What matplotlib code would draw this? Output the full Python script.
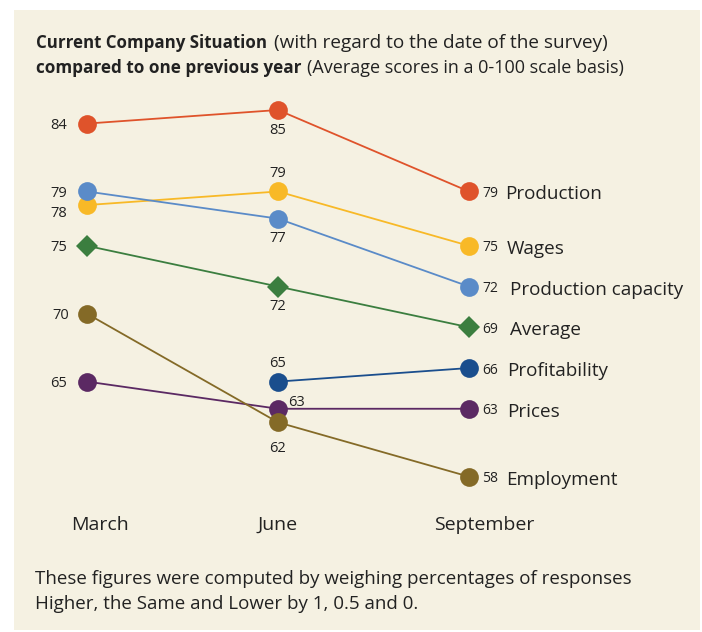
import numpy as np
import matplotlib.pyplot as plt
from matplotlib.patches import Rectangle

plt.rcParams['font.family'] = ['Open Sans', 'DejaVu Sans']

# data
months = ['March', 'June', 'September']
series_names = ['Production', 'Wages', 'Production capacity', 'Average',
                'Profitability', 'Prices', 'Employment']
production = [84, 85, 79]
wages = [78, 79, 75]
capacity = [79, 77, 72]
average = [75, 72, 69]
profitability = [None, 65, 66]
prices = [65, 63, 63]
employment = [70, 62, 58]
all_values = [production, wages, capacity, average, profitability, prices, employment]

# styles
colors = ['#df532b', '#f8b927', '#5a8bc8', '#3b7e3f', '#1a4e8d', '#5b2963', '#846a27']
markers = ['o', 'o', 'o', 'D', 'o', 'o', 'o']
# label offsets (pixels) for March / June points
march_off = [(-20, -2), (-20, -8), (-20, -2), (-20, -2), None, (-20, -2), (-18, -2)]
june_off = [(0, -20), (0, 18), (0, -20), (0, -20), (0, 18), (10, 6), (0, -26)]
name_dx = [36, 38, 41, 41, 38, 38, 37]
txt = '#222222'

W, H = 702, 632
fig = plt.figure(figsize=(W / 100, H / 100), dpi=100)
fig.patch.set_facecolor('white')

ax = fig.add_axes([0, 0, 1, 1])
ax.set_facecolor('none')
ax.set_xlim(-87 / 191, (W - 87) / 191)
ax.set_ylim(85 - (H - 110) / 13.58, 85 + 110 / 13.58)
ax.axis('off')
ax.add_patch(Rectangle((14 / W, 2 / H), 686 / W, 620 / H, transform=fig.transFigure,
                       facecolor='#f5f1e2', edgecolor='none', zorder=0))

x = np.arange(len(months))
for vals, c, m, moff, joff, ndx, name in zip(all_values, colors, markers, march_off,
                                             june_off, name_dx, series_names):
    xs = [xi for xi, v in zip(x, vals) if v is not None]
    ys = [v for v in vals if v is not None]
    ms = 11.5 if m == 'D' else 13.5
    ax.plot(xs, ys, color=c, lw=1.3, marker=m, markersize=ms, markeredgewidth=0, zorder=3)
    if vals[0] is not None:
        ax.annotate(str(vals[0]), (x[0], vals[0]), xytext=moff, textcoords='offset pixels',
                    ha='right', va='center', fontsize=10.5, color=txt)
    if vals[1] is not None:
        ha = 'left' if joff[0] > 0 else 'center'
        ax.annotate(str(vals[1]), (x[1], vals[1]), xytext=joff, textcoords='offset pixels',
                    ha=ha, va='center', fontsize=10.5, color=txt)
    ax.annotate(str(vals[2]), (x[2], vals[2]), xytext=(13, -2), textcoords='offset pixels',
                ha='left', va='center', fontsize=10, color=txt)
    ax.annotate(name, (x[2], vals[2]), xytext=(ndx, -3), textcoords='offset pixels',
                ha='left', va='center', fontsize=13.6, color=txt)

# month labels
for m, px in zip(months, [71, 257, 434]):
    fig.text(px / W, 1 - 525 / H, m, ha='left', va='center', fontsize=14, color=txt)

# title
fig.text(36 / W, 1 - 43 / H, 'Current Company Situation', ha='left', va='center',
         fontsize=12.2, fontweight='bold', color=txt)
fig.text(36 / W, 1 - 68 / H, 'compared to one previous year', ha='left', va='center',
         fontsize=12.3, fontweight='bold', color=txt)
fig.text(274 / W, 1 - 43 / H, '(with regard to the date of the survey)', ha='left',
         va='center', fontsize=13.7, color=txt)
fig.text(307 / W, 1 - 68 / H, '(Average scores in a 0-100 scale basis)', ha='left',
         va='center', fontsize=13.0, color=txt)

# footnote
fig.text(35 / W, 1 - 579 / H, 'These figures were computed by weighing percentages of responses',
         ha='left', va='center', fontsize=13.5, color=txt)
fig.text(35 / W, 1 - 604 / H, 'Higher, the Same and Lower by 1, 0.5 and 0.',
         ha='left', va='center', fontsize=13.5, color=txt)

fig.savefig('out.png', dpi=100, facecolor=fig.get_facecolor())
